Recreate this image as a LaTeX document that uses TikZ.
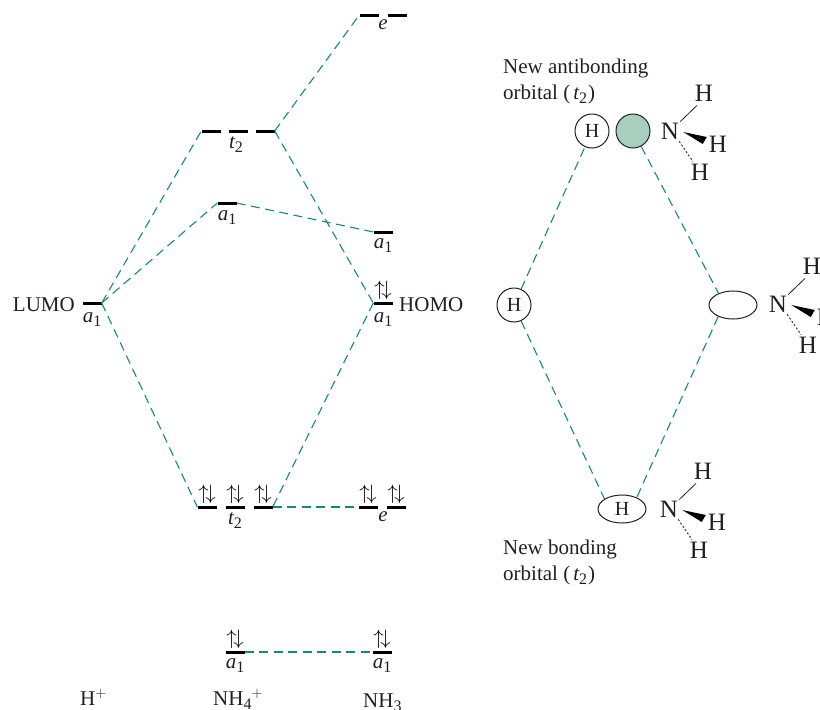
\documentclass[tikz,border=0pt]{standalone}
\usepackage{fontspec}
\setmainfont{Liberation Serif}
\usetikzlibrary{positioning, calc, shapes.geometric}
\definecolor{mogreen}{RGB}{20,140,110}
\definecolor{mofill}{RGB}{168,206,192}
\definecolor{motext}{RGB}{35,31,32}
\newcommand{\lowsub}[1]{\raisebox{-4pt}{\fontsize{16}{16}\selectfont #1}}
\newcommand{\sym}[2]{{\itshape #1}\lowsub{#2}}
\newcommand{\pair}{$\uparrow\kern-3.5pt\downarrow$}
\tikzset{
  lev/.style={fill=black, inner sep=0pt, minimum width=19pt, minimum height=3pt},
  lab/.style={font=\fontsize{21}{21}\selectfont, text=motext, inner sep=0pt},
  spin/.style={font=\fontsize{21}{21}\selectfont, text=black, inner sep=0pt, anchor=south},
  corr/.style={mogreen, dash pattern=on 9pt off 5.5pt, line width=1.1pt},
  orb/.style={draw=motext, line width=1pt, inner sep=0pt, font=\fontsize{20}{20}\selectfont, text=motext},
  ball/.style={orb, circle, minimum size=34pt},
  oval/.style={orb, ellipse, minimum width=48pt, minimum height=28pt},
  atom/.style={font=\fontsize{25}{25}\selectfont, text=motext, inner sep=0pt},
  txt/.style={font=\fontsize{21}{25.5}\selectfont, text=motext, inner sep=0pt, align=left, anchor=north west}
}
\begin{document}
\begin{tikzpicture}[x=1pt, y=-1pt]
\useasboundingbox (0,0) rectangle (820,710);
% levels
\foreach \n/\x/\y in {lumo/92/303, tua/211/131, tub/238/131, tuc/265/131, eua/369/15, eub/397/15,
    amid/227/203, aup/383/232, homo/383/303, tla/207/507, tlb/235/507, tlc/263/507,
    ela/368/507, elb/396/507, abl/235/652, abr/382/652} {
  \node [lev] (\n) at (\x,\y) {};
}
% electron pairs
\foreach \n in {homo, tla, tlb, tlc, ela, elb, abl, abr} {
  \node [spin] (s\n) at ($(\n.north)+(0,-2)$) {\pair};
}
% symmetry labels
\node [lab] (llumo) at (92,320) {\sym{a}{1}};
\node [lab] (ltu) at (236,145) {\sym{t}{2}};
\node [lab] (leu) at (383,27) {\sym{e}{}};
\node [lab] (lamid) at (227,218) {\sym{a}{1}};
\node [lab] (laup) at (383,246) {\sym{a}{1}};
\node [lab] (lhomo) at (383,320) {\sym{a}{1}};
\node [lab] (ltl) at (235,521) {\sym{t}{2}};
\node [lab] (lel) at (383,519) {\sym{e}{}};
\node [lab] (labl) at (235,666) {\sym{a}{1}};
\node [lab] (labr) at (382,666) {\sym{a}{1}};
\node [lab, anchor=east] (tlumo) at (75,305) {LUMO};
\node [lab, anchor=west] (thomo) at (399,305) {HOMO};
\node [lab, anchor=base west] (thp) at (80,705) {H$^{+}$};
\node [lab, anchor=base west] (tnhf) at (213,705) {NH\lowsub{4}$^{+}$};
\node [lab, anchor=base west] (tnht) at (363,707) {NH\lowsub{3}};
% correlation lines
\draw [corr] (lumo.east) -- (tua.west);
\draw [corr] (lumo.east) -- (amid.west);
\draw [corr] (lumo.east) -- (tla.west);
\draw [corr] (tuc.east) -- (eua.west);
\draw [corr] (tuc.east) -- (homo.west);
\draw [corr] (amid.east) -- (aup.west);
\draw [corr] (homo.west) -- (tlc.east);
\draw [corr] (tlc.east) -- (ela.west);
\draw [corr] (abl.east) -- (abr.west);
% orbitals
\node [ball] (htop) at (592,131) {H};
\node [ball, fill=mofill] (gtop) at (633,131) {};
\node [ball] (hmid) at (514,305) {H};
\node [oval] (omid) at (733,305) {};
\node [oval] (obot) at (622,509) {H};
\draw [corr] (hmid.66) -- (htop.246);
\draw [corr] (gtop.298) -- (omid.141);
\draw [corr] (hmid.294) -- (obot.150);
\draw [corr] (omid.218) -- (obot.38);
% ammonia
\foreach \m/\x/\y in {a/670/131, b/778/304, c/669/509} {
  \node [atom] (N\m) at (\x,\y) {N};
  \node [atom] (Ha\m) at (\x+34,\y-38) {H};
  \node [atom] (Hb\m) at (\x+48,\y+13) {H};
  \node [atom] (Hc\m) at (\x+30,\y+41) {H};
  \draw [motext, line width=0.8pt] ($(N\m.north east)+(1,-1)$) -- ($(Ha\m.south)+(-7,4)$);
  \fill [black] ($(N\m.east)+(4,1)$) -- ($(Hb\m.west)+(-2,-7)$) -- ($(Hb\m.west)+(-6,0)$) -- cycle;
  \draw [motext, line width=0.9pt, dash pattern=on 2pt off 2pt] ($(N\m.south east)+(0,2)$) -- ($(Hc\m.north)+(-7,-2)$);
}
% captions
\node [txt] (tanti) at (503,59) {New antibonding\\orbital (\kern3pt\sym{t}{2}\kern1pt)};
\node [txt] (tbond) at (503,540) {New bonding\\orbital (\kern3pt\sym{t}{2}\kern1pt)};
\end{tikzpicture}
\end{document}
